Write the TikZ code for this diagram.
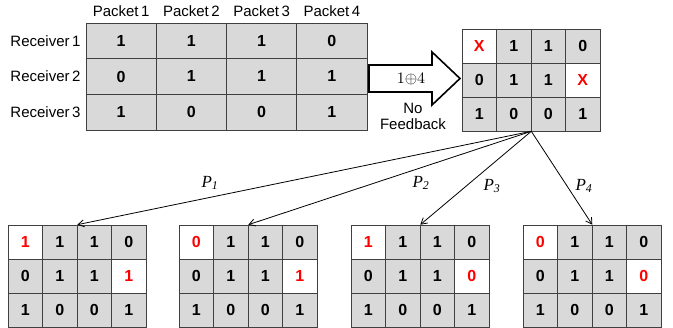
\documentclass[tikz,border=0pt]{standalone}
\usepackage{fontspec}
\setmainfont{Liberation Sans}
\newfontfamily\tms{Liberation Serif}
\usetikzlibrary{arrows.meta}

\tikzset{
  cell/.style={draw=black!75, fill=gray!30, line width=0.6pt, inner sep=0pt,
    font=\fontsize{16}{16}\selectfont\bfseries},
  bigcell/.style={cell, minimum width=70.25pt, minimum height=35.7pt},
  smallcell/.style={cell, minimum width=34.5pt, minimum height=34pt},
  lost/.style={fill=white, text=red},
  ok/.style={},
  lbl/.style={font=\fontsize{15}{15}\selectfont},
  plbl/.style={font=\fontsize{17}{17}\selectfont\tms\itshape},
  coded/.style={-{Straight Barb[length=6pt,width=7pt]}, line width=0.8pt},
}

\begin{document}
\begin{tikzpicture}[x=1pt, y=-1pt]
        \useasboundingbox (0,0) rectangle (673,328);

        % what each receiver got of the four packets
        \foreach \col in {1,...,4}
          \node [lbl] (pk-\col) at (121.1+70.25*\col-70.25, 11) {Packet\,\col};
        \foreach \r/\row in {1/{1,1,1,0}, 2/{0,1,1,1}, 3/{1,0,0,1}} {
          \node [lbl, left] (rcv-\r) at (84, 40.8+35.7*\r-35.7) {Receiver\,\r};
          \foreach \v [count=\col] in \row
            \node [bigcell] (rx-\r-\col) at (121.1+70.25*\col-70.25, 40.8+35.7*\r-35.7) {\v};
        }

        % big arrow: one coded packet, no feedback
        \draw [line width=1.6pt] (369,65) -- (432,65) -- (432,52) -- (460,78.5)
              -- (432,105) -- (432,92) -- (369,92) -- cycle;
        \node (xor) at (411,79) {\scalebox{1.6}{$1{\oplus}4$}};
        \node [lbl, align=center] (nofb) at (413,116) {No\\[1pt]Feedback};

        % state after sending 1+4
        \foreach \r/\row in {1/{lost/X,ok/1,ok/1,ok/0}, 2/{ok/0,ok/1,ok/1,lost/X}, 3/{ok/1,ok/0,ok/0,ok/1}} {
          \foreach \s/\v [count=\col] in \row
            \node [smallcell, \s] (sent-\r-\col) at (462+34.5*\col-17.25, 29+34*\r-17) {\v};
        }

        % the four possible outcomes
        \foreach \k/\xo/\u/\w in {1/8/1/1, 2/179/0/1, 3/351/1/0, 4/523/0/0} {
          \foreach \r/\row in {1/{lost/\u,ok/1,ok/1,ok/0}, 2/{ok/0,ok/1,ok/1,lost/\w}, 3/{ok/1,ok/0,ok/0,ok/1}} {
            \foreach \s/\v [count=\col] in \row
              \node [smallcell, \s] (p\k-\r-\col) at (\xo+34.5*\col-17.25, 225+34*\r-17) {\v};
          }
        }

        \coordinate (split) at (sent-3-2.south east);
        \foreach \k in {1,...,4}
          \draw [coded] (split) -- (p\k-1-2.north east);

        \node [plbl] (lab-1) at (210,183) {P\textsubscript{1}};
        \node [plbl] (lab-2) at (421,183) {P\textsubscript{2}};
        \node [plbl] (lab-3) at (492,186) {P\textsubscript{3}};
        \node [plbl] (lab-4) at (584,186) {P\textsubscript{4}};
\end{tikzpicture}
\end{document}
